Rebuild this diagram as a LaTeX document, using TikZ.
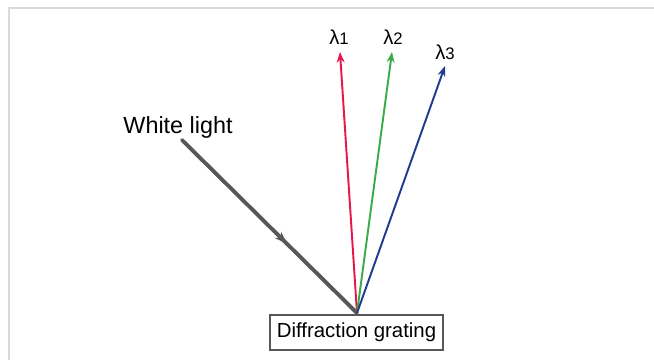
\documentclass[tikz,border=0pt]{standalone}
\usepackage{fontspec}
\setmainfont{Liberation Sans}
\usetikzlibrary{arrows.meta,decorations.markings}
\definecolor{framegray}{HTML}{D8DBDB}
\definecolor{raygray}{HTML}{575757}
\definecolor{lred}{HTML}{E5174B}
\definecolor{lgreen}{HTML}{3BAA4A}
\definecolor{lblue}{HTML}{213B8F}
\tikzset{
	ray/.style={line width=1.1pt, -{Stealth[length=6pt,width=4.5pt]}},
	white ray/.style={raygray, line width=2.2pt, line cap=round,
		postaction={decorate, decoration={markings,
		mark=at position 0.6 with {\arrow{Stealth[length=7pt,width=5pt]}}}}},
	grating box/.style={draw=raygray, line width=0.6pt, fill=white, minimum width=173*0.02cm, minimum height=35*0.02cm, inner sep=0pt, font=\fontsize{11.6}{13}\selectfont},
	lam/.style={font=\fontsize{11.5}{13}\selectfont}
}
\newcommand{\lam}[1]{λ{\fontsize{9.5}{11}\selectfont #1}}
\begin{document}
	\begin{tikzpicture}[x=0.02cm, y=-0.02cm]
		\useasboundingbox (0,0) rectangle (654,360);
		\fill[white] (0,0) rectangle (654,360);
		\draw[framegray, line width=1.6pt] (9,360) -- (9,8) -- (654,8);
		% grating and rays
		\node[grating box] (G) at (356.5,332.5) {Diffraction grating};
		\coordinate (O) at (357,313);
		\coordinate (W) at (182,140);
		\node[font=\fontsize{13.3}{15}\selectfont] (WL) at (178,127) {White light};
		\coordinate (L1) at (340,52);
		\coordinate (L2) at (392,52);
		\coordinate (L3) at (445,66);
		\draw[white ray] (W) -- (O);
		\draw[ray, lred] (O) -- (L1);
		\draw[ray, lgreen] (O) -- (L2);
		\draw[ray, lblue] (O) -- (L3);
		\node[lam] (T1) at (339,37) {\lam{1}};
		\node[lam] (T2) at (393,37) {\lam{2}};
		\node[lam] (T3) at (445,52) {\lam{3}};
	\end{tikzpicture}
\end{document}
